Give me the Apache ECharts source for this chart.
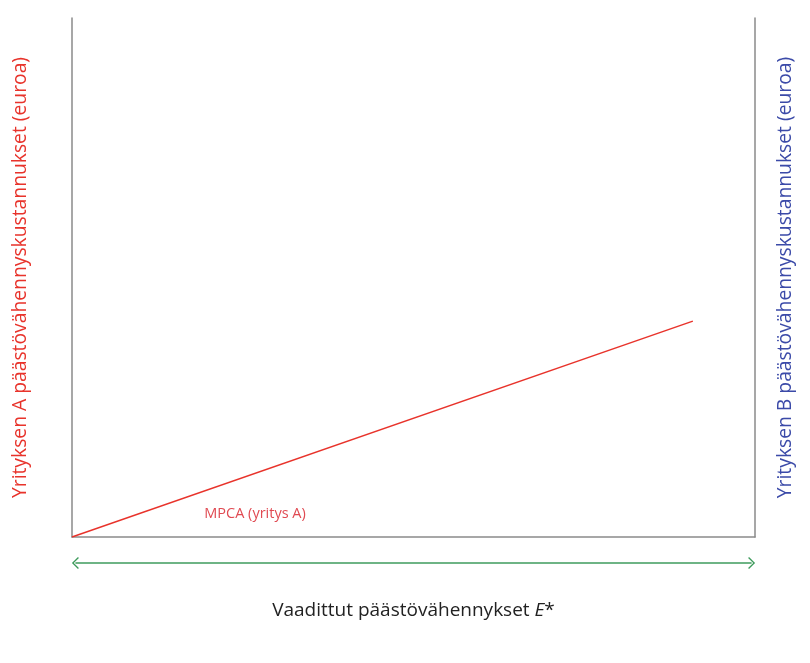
<!DOCTYPE html>
<html><head><meta charset="utf-8">
<script src="https://cdn.jsdelivr.net/npm/echarts@6/dist/echarts.min.js"></script>
<style>html,body{margin:0;padding:0;background:#fff}#c{width:810px;height:663px}</style>
</head><body><div id="c"></div>
<script>
// data (arbitrary units, axes 0..100)
const xRange = [0, 100];
const yRange = [0, 100];
const mpcaA = [[0, 0], [90.9, 41.6]];
const mpcaLabelPos = [26.8, 4.4];
const mpcaLabel = 'MPCA (yritys A)';
const arrowSpan = [[0.5, 0], [99.5, 0]];
const xTitle = 'Vaadittut päästövähennykset ';
const yTitleA = 'Yrityksen A päästövähennyskustannukset (euroa)';
const yTitleB = 'Yrityksen B päästövähennyskustannukset (euroa)';

const FONT = 'Open Sans';
const RED = '#e8332b';
const BLUE = '#3b4aa8';
const GREEN = '#3e9b5c';
const AXIS = '#8a8a8a';
const chevron = 'path://M0,9 L9,0 L18,9 L16.6,10.4 L9,2.8 L1.4,10.4 Z';

const chart = echarts.init(document.getElementById('c'));
chart.setOption({
  animation: false,
  textStyle: { fontFamily: FONT },
  grid: [
    { left: 72, right: 55, top: 18, bottom: 126 },
    { left: 72, right: 55, top: 553, height: 20 }
  ],
  xAxis: [
    {
      gridIndex: 0, type: 'value', min: xRange[0], max: xRange[1],
      axisLine: { show: true, lineStyle: { color: AXIS, width: 1.5 } },
      axisTick: { show: false }, axisLabel: { show: false }, splitLine: { show: false },
      name: '{t|' + xTitle + '}{i|E}{t|*}', nameLocation: 'middle', nameGap: 64,
      nameTextStyle: {
        rich: {
          t: { fontFamily: FONT, fontSize: 19, color: '#222' },
          i: { fontFamily: FONT, fontSize: 19, color: '#222', fontStyle: 'italic' }
        }
      }
    },
    {
      gridIndex: 1, type: 'value', min: xRange[0], max: xRange[1], show: false
    }
  ],
  yAxis: [
    {
      gridIndex: 0, type: 'value', min: yRange[0], max: yRange[1],
      axisLine: { show: true, lineStyle: { color: AXIS, width: 1.5 } },
      axisTick: { show: false }, axisLabel: { show: false }, splitLine: { show: false },
      name: yTitleA, nameLocation: 'middle', nameGap: 42,
      nameTextStyle: { color: RED, fontSize: 19.3, fontFamily: FONT }
    },
    {
      gridIndex: 0, type: 'value', min: yRange[0], max: yRange[1], position: 'right',
      axisLine: { show: true, onZero: false, lineStyle: { color: AXIS, width: 1.5 } },
      axisTick: { show: false }, axisLabel: { show: false }, splitLine: { show: false },
      name: yTitleB, nameLocation: 'middle', nameGap: 21,
      nameTextStyle: { color: BLUE, fontSize: 19.3, fontFamily: FONT }
    },
    {
      gridIndex: 1, type: 'value', min: -1, max: 1, show: false
    }
  ],
  series: [
    {
      type: 'line', xAxisIndex: 0, yAxisIndex: 0, data: mpcaA,
      symbol: 'none', lineStyle: { color: RED, width: 1.5 },
      markPoint: {
        symbol: 'circle', symbolSize: 0,
        label: { show: true, position: 'inside', formatter: mpcaLabel, color: '#e04a52', fontSize: 14.5, fontFamily: FONT },
        data: [{ coord: mpcaLabelPos }]
      }
    },
    {
      type: 'line', xAxisIndex: 1, yAxisIndex: 2, data: arrowSpan,
      symbol: 'none', lineStyle: { color: GREEN, width: 1.5, opacity: 0 },
      markLine: {
        silent: true, symbol: [chevron, chevron], symbolSize: [12, 7],
        lineStyle: { color: GREEN, width: 1.5, type: 'solid' },
        label: { show: false },
        data: [[{ coord: arrowSpan[0] }, { coord: arrowSpan[1] }]]
      }
    }
  ]
});
</script></body></html>
